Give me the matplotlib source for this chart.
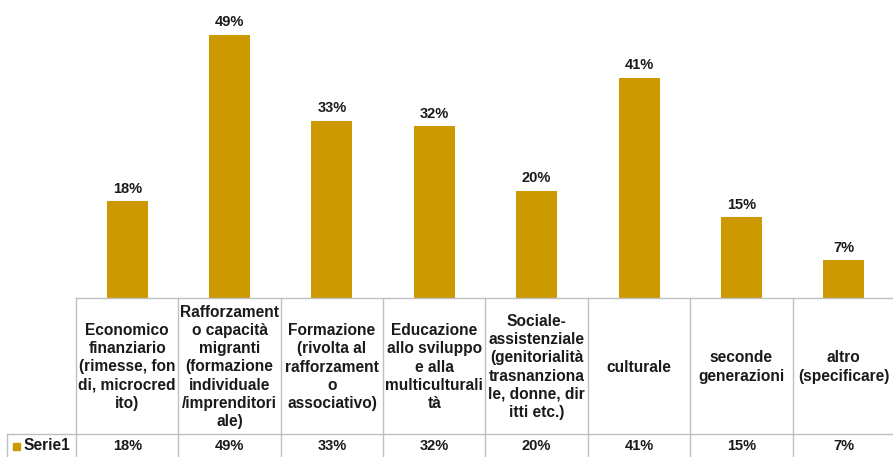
import matplotlib.pyplot as plt
from matplotlib.transforms import blended_transform_factory
from matplotlib.patches import Rectangle

plt.rcParams['font.family'] = ['Liberation Sans', 'DejaVu Sans']

# data
categories = [
    "Economico\nfinanziario\n(rimesse, fon\ndi, microcred\nito)",
    "Rafforzament\no capacità\nmigranti\n(formazione\nindividuale\n/imprenditori\nale)",
    "Formazione\n(rivolta al\nrafforzament\no\nassociativo)",
    "Educazione\nallo sviluppo\ne alla\nmulticulturali\ntà",
    "Sociale-\nassistenziale\n(genitorialità\ntrasnanziona\nle, donne, dir\nitti etc.)",
    "culturale",
    "seconde\ngenerazioni",
    "altro\n(specificare)",
]
values = [0.18, 0.49, 0.33, 0.32, 0.20, 0.41, 0.15, 0.07]
labels = ["18%", "49%", "33%", "32%", "20%", "41%", "15%", "7%"]
series_name = "Serie1"

W, H = 893, 457
gold = "#CC9900"
grid = "#BFBFBF"
fs = 10.5
fs_tab = 11.2

fig = plt.figure(figsize=(W / 100, H / 100), dpi=100)
x0, x1 = 76, 895
base = 298
ax = fig.add_axes([x0 / W, (H - base) / H, (x1 - x0) / W, base / H])

n = len(values)
xs = range(n)
ax.bar(xs, values, width=0.4, color=gold)
ax.set_xlim(-0.5, n - 0.5)
ax.set_ylim(0, 0.555)
ax.axis("off")

for x, v, lab in zip(xs, values, labels):
    ax.annotate(lab, (x, v), xytext=(0, 4), textcoords="offset points",
                ha="center", va="bottom", fontsize=fs, fontweight="bold",
                color="#1a1a1a")

# data table below the plot
def ay(py):
    # pixel row -> axes y coordinate
    return (base - py) / base

trans = blended_transform_factory(ax.transData, ax.transAxes)
row_line = 434
left_x = (7 - x0) / ((x1 - x0) / n) - 0.5

# horizontal lines
ax.plot([-0.5, n - 0.5], [0, 0], transform=trans, color=grid, lw=1, clip_on=False)
ax.plot([left_x, n - 0.5], [ay(row_line)] * 2,
        transform=trans, color=grid, lw=1, clip_on=False)
# vertical lines
for i in range(n + 1):
    ax.plot([i - 0.5, i - 0.5], [0, ay(H + 2)], transform=trans, color=grid,
            lw=1, clip_on=False)
ax.plot([left_x, left_x], [ay(row_line), ay(H + 2)], transform=trans,
        color=grid, lw=1, clip_on=False)

for x, cat, lab in zip(xs, categories, labels):
    ax.text(x, ay((base + row_line) / 2 + 1), cat, transform=trans, ha="center",
            va="center", fontsize=fs_tab, fontweight="bold", linespacing=1.27,
            color="#1a1a1a")
    ax.text(x, ay(446), lab, transform=trans, ha="center", va="center",
            fontsize=fs, fontweight="bold", color="#1a1a1a")

# series key in the row header
fig.patches.append(Rectangle((13 / W, (H - 450) / H), 7 / W, 7 / H,
                             transform=fig.transFigure, color=gold))
fig.text(24 / W, (H - 446) / H, series_name, ha="left", va="center",
         fontsize=fs_tab, fontweight="bold", color="#1a1a1a")

fig.savefig("out.png", dpi=100)
